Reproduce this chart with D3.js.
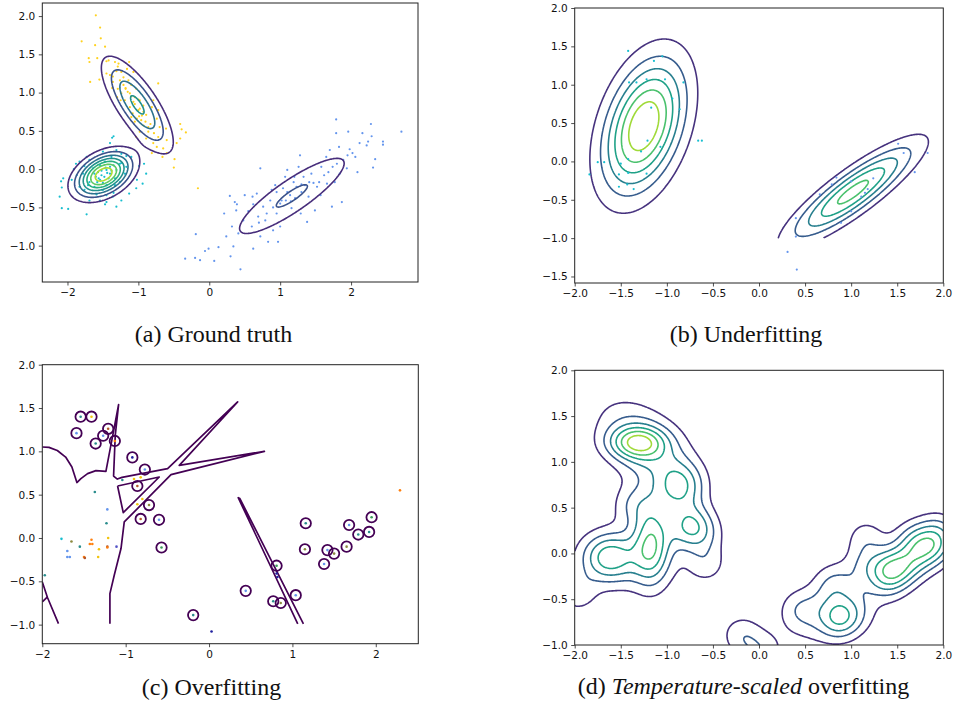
<!DOCTYPE html>
<html>
<head>
<meta charset="utf-8">
<script src="https://cdn.jsdelivr.net/npm/d3@7"></script>
<style>
  body { margin: 0; background: #fff; }
  .tick text { font-family: "DejaVu Sans", sans-serif; font-size: 10.5px; fill: #111; }
  .tick line { stroke: #222; stroke-width: 0.8; }
  .caption { font-family: "Liberation Serif", "Times New Roman", serif; font-size: 24px; fill: #111; }
</style>
</head>
<body>
<div id="viz"></div>
<script>
// ---------------- data ----------------

// (a) ground truth: three gaussian components [mx, my, sx, sy, rho, weight]
let gtComponents = [
  [-1.015, 0.84, 0.299, 0.375, -0.76, 0.347],  // yellow
  [-1.49, -0.07, 0.248, 0.181, 0.40, 0.365],   // cyan
  [1.165, -0.35, 0.598, 0.398, 0.866, 0.288]   // blue
];
let gtLevels = [0.18, 0.36, 0.54, 0.72, 0.90, 1.08, 1.26];
let gtColorMax = 1.44;

let gtYellow = [[-1.60,2.01],[-1.54,1.85],[-1.53,1.71],[-1.47,1.60],[-1.80,1.67],[-1.61,1.62],[-1.70,1.45],[-1.69,1.40],[-1.58,1.45],[-1.68,1.14],[-1.55,1.17],[-1.45,1.41],[-1.42,1.42],[-1.33,1.40],[-1.28,1.38],[-1.13,1.40],[-1.29,1.34],[-1.16,1.31],[-1.07,1.27],[-1.45,1.25],[-1.40,1.23],[-1.36,1.21],[-1.26,1.16],[-1.21,1.20],[-1.14,1.16],[-1.10,1.10],[-1.03,1.05],[-1.18,1.05],[-1.12,0.99],[-1.05,0.94],[-0.98,0.90],[-1.07,0.88],[-1.12,0.81],[-1.00,0.77],[-0.93,0.75],[-0.89,0.71],[-0.81,0.81],[-0.74,0.66],[-0.70,0.55],[-0.83,0.59],[-0.93,0.57],[-0.98,0.49],[-1.03,0.42],[-0.89,0.40],[-0.79,0.34],[-0.74,0.29],[-0.65,0.27],[-0.60,0.21],[-0.81,0.21],[-0.66,0.16],[-0.49,0.13],[-0.50,0.02],[-0.41,0.59],[-0.39,0.52],[-0.33,0.48],[-0.41,0.40],[-0.46,0.34],[-1.36,1.14],[-1.29,1.05],[-1.24,0.99],[-1.25,0.90],[-1.19,0.90],[-1.10,0.68],[-1.05,0.62],[-0.99,0.69],[-0.96,0.64],[-0.86,0.49],[-0.78,0.47],[-0.72,0.42],[-1.31,1.28],[-1.24,1.27],[-1.21,1.10],[-1.30,0.94],[-1.37,1.06],[-0.72,1.12],[-0.79,0.90],[-0.72,0.77],[-0.61,0.53],[-0.60,0.38],[-0.16,-0.25],[-1.05,0.85],[-0.98,0.79],[-1.10,0.95],[-0.95,0.70],[-1.15,1.01],[-0.90,0.62],[-1.00,0.91],[-1.08,0.73],[-0.93,0.83],[-1.18,1.06],[-0.86,0.55],[-1.02,0.66]];

let gtCyan = [[-1.37,0.41],[-1.35,0.43],[-1.40,0.34],[-1.50,0.23],[-1.31,0.25],[-1.24,0.20],[-1.17,0.17],[-1.73,0.16],[-1.83,0.10],[-1.76,0.04],[-1.87,-0.08],[-1.94,-0.14],[-2.09,-0.16],[-2.06,-0.12],[-2.11,-0.36],[-2.08,-0.24],[-2.08,-0.51],[-1.99,-0.52],[-1.73,-0.59],[-1.54,-0.41],[-1.47,-0.46],[-1.45,-0.43],[-1.69,-0.41],[-1.59,-0.33],[-1.36,-0.36],[-1.24,-0.41],[-1.24,0.08],[-1.10,0.16],[-0.92,0.07],[-0.99,0.04],[-0.89,-0.06],[-1.02,-0.14],[-0.94,-0.19],[-1.03,-0.25],[-1.13,-0.32],[-1.62,-0.06],[-1.69,-0.17],[-1.54,-0.14],[-1.45,-0.21],[-1.33,-0.12],[-1.40,0.03],[-1.31,-0.01],[-1.26,0.07],[-1.54,0.05],[-1.64,0.01],[-1.78,-0.06],[-1.62,-0.23],[-1.50,-0.27],[-1.76,-0.27],[-1.83,-0.23],[-1.38,0.16],[-1.47,0.10],[-1.40,-0.06],[-1.52,-0.08],[-1.57,-0.04],[-1.45,-0.01],[-1.33,-0.21],[-1.26,-0.17],[-1.19,-0.06],[-1.17,0.03],[-1.69,0.12],[-1.71,-0.21],[-1.91,0.00],[-1.88,0.07],[-1.31,-0.49],[-1.45,-0.34],[-1.58,-0.17],[-1.35,-0.31],[-1.48,-0.10],[-1.44,-0.05],[-1.52,-0.02],[-1.42,-0.12],[-1.56,-0.12],[-1.50,-0.18],[-1.38,-0.02],[-1.60,-0.10],[-1.46,0.02],[-1.35,0.05]];

let gtBlue = [[-0.19,-0.85],[-0.34,-1.17],[-0.20,-1.16],[-0.13,-1.19],[-0.06,-1.07],[-0.01,-1.04],[0.07,-1.20],[0.13,-1.02],[0.21,-0.58],[0.29,-0.35],[0.30,-1.14],[0.24,-0.88],[0.32,-0.75],[0.34,-1.01],[0.36,-0.43],[0.39,-0.46],[0.41,-0.84],[0.38,-0.54],[0.44,-1.31],[0.48,-0.67],[0.50,-0.34],[0.62,-0.46],[0.62,-1.04],[0.61,-0.36],[0.67,-0.32],[0.69,-0.62],[0.72,0.01],[0.72,-0.88],[0.76,-0.49],[0.79,-0.67],[0.81,-0.58],[0.83,-0.95],[0.86,-0.41],[0.88,-0.27],[0.90,-0.80],[0.93,-0.21],[0.95,-0.58],[0.97,-0.95],[1.00,-0.75],[1.02,-0.41],[1.04,-0.25],[1.07,-0.10],[1.08,-0.41],[1.10,-0.01],[1.14,-0.34],[1.16,-0.51],[1.19,-0.17],[1.21,-0.38],[1.23,-0.23],[1.26,0.03],[1.28,0.18],[1.29,-0.58],[1.30,-0.30],[1.33,-0.10],[1.35,-0.21],[1.38,-0.69],[1.40,-0.36],[1.41,-0.17],[1.44,-0.06],[1.47,-0.18],[1.49,-0.54],[1.52,-0.23],[1.55,-0.17],[1.57,-0.34],[1.58,0.03],[1.62,-0.08],[1.65,0.16],[1.66,-0.19],[1.68,-0.04],[1.70,0.25],[1.73,-0.49],[1.74,0.03],[1.77,-0.17],[1.79,0.65],[1.79,0.47],[1.80,0.07],[1.83,0.29],[1.84,-0.06],[1.87,-0.43],[1.89,0.12],[1.94,0.01],[1.95,0.18],[1.96,0.49],[1.98,0.26],[2.02,0.21],[2.06,0.16],[2.09,-0.04],[2.12,0.34],[2.16,0.47],[2.22,0.31],[2.24,0.36],[2.28,0.59],[2.29,0.43],[2.31,0.02],[2.34,0.13],[2.45,0.36],[2.45,0.32],[2.71,0.49],[1.10,-0.30],[1.00,-0.45],[0.90,-0.50],[1.30,-0.20],[1.20,-0.10],[0.70,-0.70],[0.60,-0.75],[0.55,-0.55],[1.15,-0.42],[0.95,-0.30]];

// (b) underfitting: two components [mx, my, sx, sy, rho, weight]
let ufComponents = [
  [-1.25, 0.46, 0.297, 0.576, 0.378, 0.695],
  [1.02, -0.40, 0.4466, 0.4112, 0.870, 0.305]
];
let ufLevels = [0.1, 0.2, 0.3, 0.4, 0.5, 0.6];
let ufColorMax = 0.7;
let ufCyan = [[-1.42,1.44],[-1.14,1.31],[-1.05,1.37],[-1.41,1.03],[-1.33,1.03],[-1.22,1.07],[-1.02,1.07],[-0.82,1.03],[-0.94,0.82],[-0.86,0.68],[-1.17,0.70],[-0.66,0.27],[-0.62,0.27],[-1.21,0.27],[-1.28,0.13],[-1.07,0.19],[-1.75,-0.01],[-1.68,-0.01],[-1.84,-0.17],[-1.50,-0.03],[-1.42,0.03],[-1.52,-0.17],[-1.42,-0.15],[-1.22,-0.16],[-1.52,-0.33],[-1.43,-0.30],[-1.36,-0.36]];
let ufBlue = [[1.51,0.23],[1.57,0.11],[1.83,0.11],[1.69,-0.14],[1.24,-0.22],[1.18,-0.36],[1.15,-0.41],[1.11,-0.46],[0.84,-0.21],[0.79,-0.30],[0.66,-0.43],[1.00,-0.26],[1.00,-0.65],[0.89,-0.80],[0.40,-0.74],[0.40,-0.98],[0.31,-1.18],[0.41,-1.41]];

// (c) overfitting: the single decision contour, as polylines
let ofLineMain = [[-2.00,1.05],[-1.92,1.046],[-1.82,1.01],[-1.72,0.934],[-1.645,0.82],[-1.585,0.64],[-1.537,0.685],[-1.457,0.743],[-1.357,0.777],[-1.237,0.769],[-1.085,1.54],[-1.125,1.185],[-1.145,0.715],[-1.10,0.68],[-1.044,0.70],[-0.497,0.80],[0.343,1.57],[-0.357,0.838],[0.664,1.00],[-0.456,0.731],[-1.017,0.185],[-1.056,-0.122],[-1.137,-0.43],[-1.189,-0.642],[-1.189,-0.99]];
let ofTriangle = [[-1.097,0.60],[-0.597,0.704],[-1.029,0.293],[-1.097,0.60]];
let ofWedgeA = [[-2.00,-0.507],[-1.938,-0.687],[-1.806,-0.988]];
let ofWedgeB = [[-2.00,-0.738],[-1.938,-0.68]];
let ofSpike = [[1.064,-0.99],[0.35,0.465],[0.37,0.455],[1.132,-0.99]];

let ofCircled = [[-1.54,1.40,"teal"],[-1.41,1.40,"gold"],[-1.59,1.21,"blue"],[-1.36,1.09,"teal"],[-1.27,1.18,"blue"],[-1.21,1.26,"brown"],[-1.13,1.12,"orange"],[-0.92,0.93,"navy"],[-0.77,0.79,"blue"],[-0.86,0.60,"brown"],[-0.72,0.38,"olive"],[-0.82,0.22,"brown"],[-0.60,0.21,"blue"],[-0.57,-0.11,"green"],[-0.19,-0.89,"teal"],[0.44,-0.61,"blue"],[0.81,-0.32,"green"],[0.77,-0.73,"teal"],[0.86,-0.75,"olive"],[1.04,-0.66,"blue"],[1.16,0.17,"teal"],[1.15,-0.13,"olive"],[1.42,-0.14,"blue"],[1.50,-0.18,"olive"],[1.38,-0.30,"blue"],[1.65,-0.10,"olive"],[1.68,0.15,"blue"],[1.79,0.04,"teal"],[1.92,0.07,"teal"],[1.95,0.24,"green"]];
let ofDots = [[-1.04,0.67,"teal"],[-0.90,0.68,"gold"],[-0.82,0.70,"gold"],[-0.80,0.45,"gold"],[-0.86,0.39,"gold"],[-1.37,0.53,"teal"],[-1.22,0.33,"blue"],[-1.23,0.17,"teal"],[-1.21,0.00,"gold"],[-1.77,-0.01,"cyan"],[-1.65,-0.04,"olive"],[-1.41,-0.02,"orange"],[-1.43,-0.07,"orange"],[-1.40,-0.07,"orange"],[-1.55,-0.10,"teal"],[-1.32,-0.13,"gold"],[-1.22,-0.10,"brown"],[-1.22,-0.11,"orange"],[-1.11,-0.10,"indigo"],[-1.70,-0.15,"blue"],[-1.70,-0.22,"blue"],[-1.67,-0.22,"blue"],[-1.50,-0.22,"orange"],[-1.49,-0.23,"brown"],[-1.33,-0.22,"gold"],[-1.97,-0.43,"teal"],[0.03,-1.08,"navy"],[0.81,-0.41,"navy"],[0.82,-0.45,"navy"],[2.29,0.55,"orange"]];

// (d) temperature-scaled overfitting: density bumps [mx, my, sx, sy, rho, height]
let tsBumps = [
  [-1.22, 1.15, 0.34, 0.33, -0.45, 3.1],
  [-1.32, 1.21, 0.21, 0.12, 0, 3.9],
  [-0.88, 0.85, 0.155, 0.155, 0, 1.1],
  [-0.76, 0.75, 0.155, 0.155, 0, 1.1],
  [-0.86, 0.62, 0.155, 0.155, 0, 1.1],
  [-0.98, 0.68, 0.155, 0.155, 0, 0.6],
  [-0.72, 0.35, 0.155, 0.155, 0, 1.9],
  [-0.80, 0.24, 0.155, 0.155, 0, 1.4],
  [-0.60, 0.21, 0.155, 0.155, 0, 1.4],
  [-0.57, -0.11, 0.155, 0.155, 0, 1.4],
  [-1.17, 0.10, 0.14, 0.30, 0, 4.0],
  [-1.63, -0.04, 0.20, 0.18, 0, 3.7],
  [-1.40, -0.08, 0.38, 0.25, 0, 1.3],
  [-1.37, 0.53, 0.155, 0.155, 0, 1.5],
  [-1.97, -0.43, 0.15, 0.15, 0, 1.5],
  [-1.05, 0.45, 0.25, 0.30, 0, 0.6],
  [0.87, -0.72, 0.15, 0.15, 0, 2.4],
  [0.80, -0.62, 0.32, 0.25, 0.3, 1.8],
  [0.44, -0.61, 0.155, 0.155, 0, 1.3],
  [0.81, -0.32, 0.155, 0.155, 0, 1.5],
  [1.04, -0.66, 0.155, 0.155, 0, 0.8],
  [1.16, 0.17, 0.155, 0.155, 0, 1.4],
  [1.15, -0.13, 0.155, 0.155, 0, 1.4],
  [1.42, -0.14, 0.155, 0.155, 0, 1.78],
  [1.50, -0.18, 0.155, 0.155, 0, 1.78],
  [1.38, -0.30, 0.155, 0.155, 0, 1.78],
  [1.65, -0.10, 0.155, 0.155, 0, 1.78],
  [1.68, 0.15, 0.155, 0.155, 0, 1.78],
  [1.79, 0.04, 0.155, 0.155, 0, 1.78],
  [1.92, 0.07, 0.155, 0.155, 0, 1.78],
  [1.95, 0.24, 0.155, 0.155, 0, 1.78],
  [-0.19, -0.89, 0.155, 0.155, 0, 1.6],
  [0.03, -1.08, 0.155, 0.155, 0, 1.6]
];
let tsLevels = [1, 2, 3, 4, 5, 6];
let tsColorMax = 7;

// tick values
let ticksInt = [-2, -1, 0, 1, 2];
let ticksHalfX = [-2, -1.5, -1, -0.5, 0, 0.5, 1, 1.5, 2];
let ticksA_y = [-1, -0.5, 0, 0.5, 1, 1.5, 2];
let ticksB_y = [-1.5, -1, -0.5, 0, 0.5, 1, 1.5, 2];
let ticksD_y = [-1, -0.5, 0, 0.5, 1, 1.5, 2];

let captions = ["(a) Ground truth", "(b) Underfitting", "(c) Overfitting"];

// ---------------- styles ----------------
let dotColors = {
  teal: "#2a8d8d", gold: "#f2c40f", blue: "#6495ed", brown: "#b5562a", orange: "#ff7f0e",
  navy: "#1f1f9e", olive: "#8d8a40", green: "#3a9a5a", cyan: "#17becf", indigo: "#5555c8"
};
let lineDark = "#440154";

// ---------------- page ----------------
let w = 953, h = 713;
let svg = d3.select("#viz").append("svg").attr("width", w).attr("height", h);
svg.append("rect").attr("width", w).attr("height", h).attr("fill", "#fff");

let clipCount = 0;
function makePanel(box, xd, yd, xt, yt, xf, yf) {
  let x = d3.scaleLinear().domain(xd).range([box.l, box.r]);
  let y = d3.scaleLinear().domain(yd).range([box.b, box.t]);
  let id = "clip" + (clipCount++);
  svg.append("clipPath").attr("id", id).append("rect")
    .attr("x", box.l).attr("y", box.t).attr("width", box.r - box.l).attr("height", box.b - box.t);
  let g = svg.append("g").attr("clip-path", "url(#" + id + ")");

  let ax = svg.append("g").attr("transform", "translate(0," + box.b + ")")
    .call(d3.axisBottom(x).tickValues(xt).tickFormat(xf).tickSizeInner(3.5).tickSizeOuter(0).tickPadding(3.5));
  ax.select(".domain").remove();
  let ay = svg.append("g").attr("transform", "translate(" + box.l + ",0)")
    .call(d3.axisLeft(y).tickValues(yt).tickFormat(yf).tickSizeInner(3.5).tickSizeOuter(0).tickPadding(3.5));
  ay.select(".domain").remove();
  svg.append("rect").attr("x", box.l).attr("y", box.t)
    .attr("width", box.r - box.l).attr("height", box.b - box.t)
    .attr("fill", "none").attr("stroke", "#222").attr("stroke-width", 1);
  return { x: x, y: y, g: g };
}

function gauss(px, py, c) {
  let u = (px - c[0]) / c[2], v = (py - c[1]) / c[3], r = c[4];
  return Math.exp(-(u * u - 2 * r * u * v + v * v) / (2 * (1 - r * r)));
}
function mixture(comps) {
  return function(px, py) {
    let s = 0;
    comps.forEach(function(c) {
      s += c[5] / (2 * Math.PI * c[2] * c[3] * Math.sqrt(1 - c[4] * c[4])) * gauss(px, py, c);
    });
    return s;
  };
}
function bumps(list) {
  return function(px, py) {
    let s = 0;
    list.forEach(function(c) { s += c[5] * gauss(px, py, c); });
    return s;
  };
}

// contour lines of fn on a grid; segments on the grid border are dropped
function drawContours(p, fn, box, n, m, levels, cmax) {
  let x0 = box[0], x1 = box[1], y0 = box[2], y1 = box[3];
  let dx = (x1 - x0) / n, dy = (y1 - y0) / m;
  let vals = new Float64Array(n * m);
  for (let j = 0; j < m; j++) {
    let yy = y0 + (j + 0.5) * dy;
    for (let i = 0; i < n; i++) vals[j * n + i] = fn(x0 + (i + 0.5) * dx, yy);
  }
  let cs = d3.contours().size([n, m]).thresholds(levels)(vals);
  function onBorder(pt) { return pt[0] <= 0 || pt[0] >= n || pt[1] <= 0 || pt[1] >= m; }
  cs.forEach(function(c) {
    let d = "";
    c.coordinates.forEach(function(poly) {
      poly.forEach(function(ring) {
        ring.forEach(function(pt, k) {
          let sx = p.x(x0 + pt[0] * dx).toFixed(2), sy = p.y(y0 + pt[1] * dy).toFixed(2);
          if (k === 0 || (onBorder(pt) && onBorder(ring[k - 1]))) d += "M" + sx + "," + sy;
          else d += "L" + sx + "," + sy;
        });
      });
    });
    p.g.append("path").attr("d", d).attr("fill", "none")
      .attr("stroke", d3.interpolateViridis(c.value / cmax))
      .attr("stroke-width", 1.6).attr("stroke-linejoin", "round");
  });
}

function drawDots(p, pts, color, r) {
  p.g.selectAll(null).data(pts).enter().append("circle")
    .attr("cx", function(d) { return p.x(d[0]); })
    .attr("cy", function(d) { return p.y(d[1]); })
    .attr("r", r)
    .attr("fill", function(d) { return color || dotColors[d[2]]; });
}

let fmtInt = d3.format("d");
let fmt1 = d3.format(".1f");

// (a)
let pa = makePanel({ l: 42.3, r: 418, t: 3, b: 282 }, [-2.355, 2.944], [-1.475, 2.171], ticksInt, ticksA_y, fmtInt, fmt1);
drawDots(pa, gtYellow, "#ffd21f", 1.1);
drawDots(pa, gtCyan, "#17becf", 1.1);
drawDots(pa, gtBlue, "#6495ed", 1.1);
drawContours(pa, mixture(gtComponents), [-2.355, 2.944, -1.475, 2.171], 430, 300, gtLevels, gtColorMax);

// (b)
let pb = makePanel({ l: 574.7, r: 943.3, t: 8, b: 283 }, [-2, 2], [-1.585, 2], ticksHalfX, ticksB_y, fmt1, fmt1);
drawContours(pb, mixture(ufComponents), [-2, 2, -1, 2], 400, 300, ufLevels, ufColorMax);
drawDots(pb, ufCyan, "#17becf", 1.1);
drawDots(pb, ufBlue, "#6495ed", 1.1);

// (c)
let pc = makePanel({ l: 42.3, r: 418.3, t: 364.7, b: 643.7 }, [-2, 2.51], [-1.22, 2], ticksInt, ticksA_y, fmtInt, fmt1);
let line = d3.line().x(function(d) { return pc.x(d[0]); }).y(function(d) { return pc.y(d[1]); });
[ofLineMain, ofTriangle, ofWedgeA, ofWedgeB, ofSpike].forEach(function(l) {
  pc.g.append("path").attr("d", line(l)).attr("fill", "none")
    .attr("stroke", lineDark).attr("stroke-width", 1.7).attr("stroke-linejoin", "round");
});
pc.g.selectAll(null).data(ofCircled).enter().append("circle")
  .attr("cx", function(d) { return pc.x(d[0]); })
  .attr("cy", function(d) { return pc.y(d[1]); })
  .attr("r", 5.2).attr("fill", "none").attr("stroke", lineDark).attr("stroke-width", 1.8);
drawDots(pc, ofCircled, null, 1.3);
drawDots(pc, ofDots, null, 1.3);

// (d)
let pd = makePanel({ l: 574.7, r: 943.3, t: 370.3, b: 645 }, [-2, 2], [-1, 2], ticksHalfX, ticksD_y, fmt1, fmt1);
drawContours(pd, bumps(tsBumps), [-2, 2, -1, 2], 400, 300, tsLevels, tsColorMax);

// captions
svg.append("text").attr("class", "caption").attr("x", 213.5).attr("y", 342).attr("text-anchor", "middle").text(captions[0]);
svg.append("text").attr("class", "caption").attr("x", 746).attr("y", 342).attr("text-anchor", "middle").text(captions[1]);
svg.append("text").attr("class", "caption").attr("x", 211.5).attr("y", 695).attr("text-anchor", "middle").text(captions[2]);
let capD = svg.append("text").attr("class", "caption").attr("x", 743.5).attr("y", 694).attr("text-anchor", "middle");
capD.append("tspan").text("(d) ");
capD.append("tspan").attr("font-style", "italic").text("Temperature-scaled");
capD.append("tspan").text(" overfitting");
</script>
</body>
</html>
